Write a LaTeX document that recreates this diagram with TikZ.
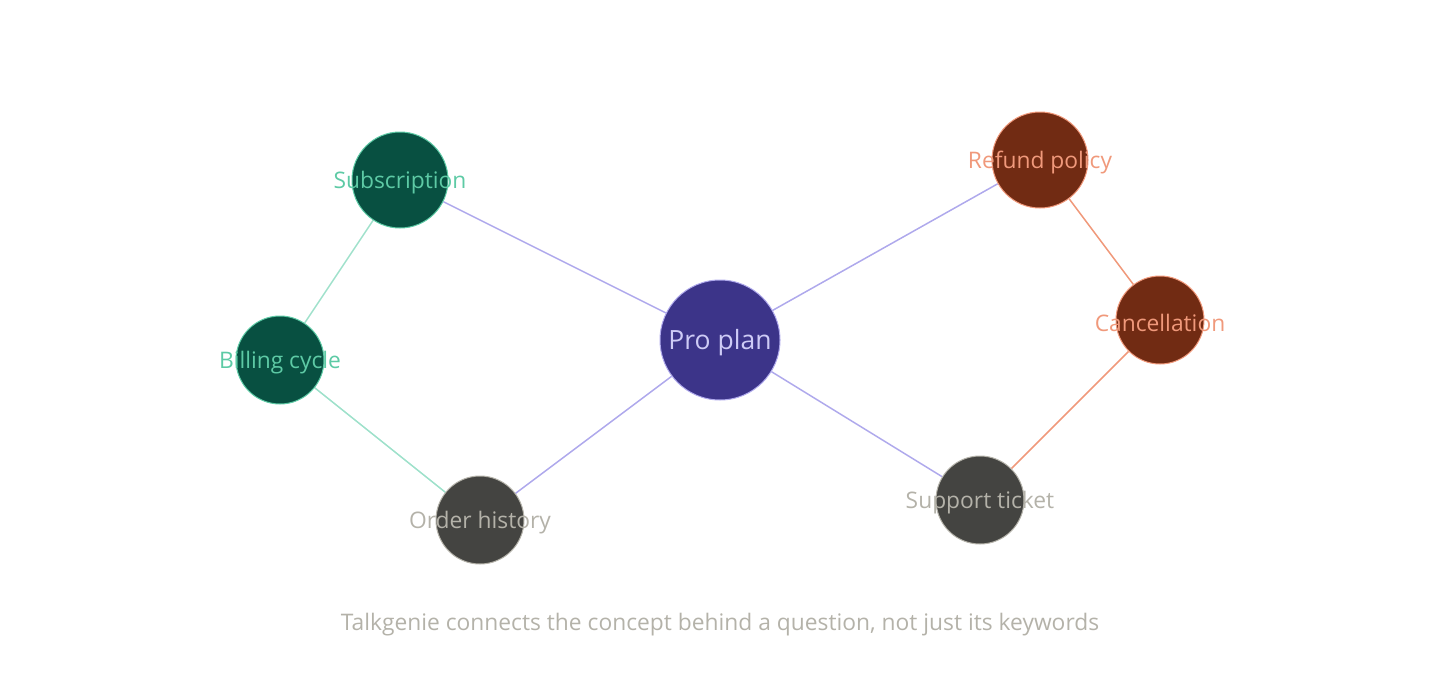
\documentclass[tikz,border=0pt]{standalone}
\usepackage{fontspec}
\setmainfont{Open Sans}
\usepackage{tikz}
\usetikzlibrary{positioning, backgrounds}
\definecolor{hubFill}{HTML}{3C3489}
\definecolor{hubLine}{HTML}{AFA9EC}
\definecolor{hubText}{HTML}{CECBF6}
\definecolor{grnFill}{HTML}{085041}
\definecolor{grnLine}{HTML}{5DCAA5}
\definecolor{grnEdge}{HTML}{9FE1CB}
\definecolor{redFill}{HTML}{712B13}
\definecolor{redLine}{HTML}{F0997B}
\definecolor{gryFill}{HTML}{444441}
\definecolor{gryText}{HTML}{B4B2A9}
\definecolor{capText}{HTML}{B4B2A9}

\tikzset{
  concept/.style={circle, inner sep=0pt, line width=1pt},
  tag/.style={font=\fontsize{22.8}{26}\selectfont},
  link/.style={line width=1.5pt}
}

\begin{document}
\begin{tikzpicture}[x=1pt, y=-1pt]
    \useasboundingbox (0,0) rectangle (1440,680);
    % hub
    \node[concept, fill=hubFill, draw=hubLine, minimum size=120pt] (pro) at (720,340) {};
    \node[tag, text=hubText, font=\fontsize{26.5}{30}\selectfont] at (720,343) {Pro plan};
    % billing cluster
    \node[concept, fill=grnFill, draw=grnLine, minimum size=96pt] (sub) at (400,180) {};
    \node[tag, text=grnLine] at (400,183) {Subscription};
    \node[concept, fill=grnFill, draw=grnLine, minimum size=88pt] (bill) at (280,360) {};
    \node[tag, text=grnLine] at (280,363) {Billing cycle};
    % refund cluster
    \node[concept, fill=redFill, draw=redLine, minimum size=96pt] (ref) at (1040,160) {};
    \node[tag, text=redLine] at (1040,163) {Refund policy};
    \node[concept, fill=redFill, draw=redLine, minimum size=88pt] (canc) at (1160,320) {};
    \node[tag, text=redLine] at (1160,323) {Cancellation};
    % shared nodes
    \node[concept, fill=gryFill, draw=gryText, minimum size=88pt] (ord) at (480,520) {};
    \node[tag, text=gryText] at (480,523) {Order history};
    \node[concept, fill=gryFill, draw=gryText, minimum size=88pt] (sup) at (980,500) {};
    \node[tag, text=gryText] at (980,503) {Support ticket};
    % edges
    \begin{scope}[on background layer]
        \draw[link, hubLine] (pro) -- (sub);
        \draw[link, hubLine] (pro) -- (ref);
        \draw[link, hubLine] (pro) -- (ord);
        \draw[link, hubLine] (pro) -- (sup);
        \draw[link, grnEdge] (sub) -- (bill);
        \draw[link, grnEdge] (bill) -- (ord);
        \draw[link, redLine] (ref) -- (canc);
        \draw[link, redLine] (canc) -- (sup);
    \end{scope}
    \node[tag, text=capText] (cap) at (720,625) {Talkgenie connects the concept behind a question, not just its keywords};
\end{tikzpicture}
\end{document}
